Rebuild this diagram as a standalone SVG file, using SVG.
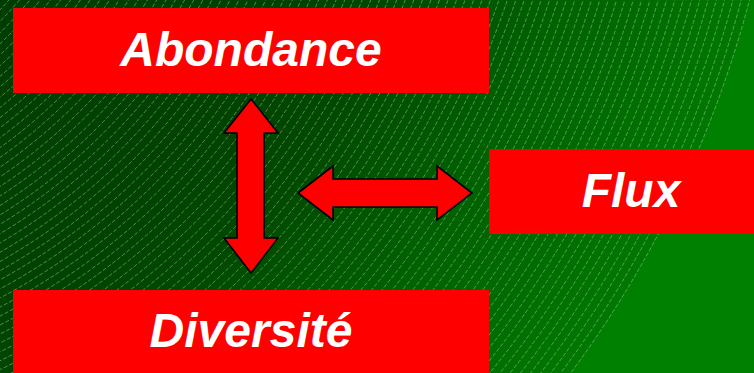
<svg xmlns="http://www.w3.org/2000/svg" width="754" height="373" viewBox="0 0 754 373">
  <defs>
    <radialGradient id="swirlFill" gradientUnits="userSpaceOnUse" cx="-305" cy="-276" r="1090">
      <stop offset="0.38" stop-color="#003d00"/>
      <stop offset="0.6" stop-color="#004200"/>
      <stop offset="0.68" stop-color="#004800"/>
      <stop offset="0.82" stop-color="#006000"/>
      <stop offset="0.92" stop-color="#006d00"/>
      <stop offset="1" stop-color="#007800"/>
    </radialGradient>
    <style>
      .box { fill: #ff0000; }
      .label { font-family: "Liberation Sans", Arial, sans-serif; font-weight: bold; font-style: italic; font-size: 48px; fill: #ffffff; text-anchor: middle; }
      .arrow { fill: #ff0000; stroke: #000000; stroke-width: 1.6; stroke-linejoin: miter; }
      .swirl circle { fill: none; stroke: #b0dcb0; stroke-opacity: 0.6; stroke-width: 0.8; stroke-dasharray: 4 2; }
    </style>
  </defs>

  <!-- background: flat green with a swirl of concentric dashed rings -->
  <rect x="0" y="0" width="754" height="373" fill="#008000"/>
  <circle cx="-305" cy="-276" r="1090" fill="url(#swirlFill)"/>
  <g class="swirl" transform="translate(-305,-276)">
    <circle r="1090"/><circle r="1082"/><circle r="1074"/><circle r="1066"/><circle r="1058"/>
    <circle r="1050"/><circle r="1042"/><circle r="1034"/><circle r="1026"/><circle r="1018"/>
    <circle r="1010"/><circle r="1002"/><circle r="994"/><circle r="986"/><circle r="978"/>
    <circle r="970"/><circle r="962"/><circle r="954"/><circle r="946"/><circle r="938"/>
    <circle r="930"/><circle r="922"/><circle r="914"/><circle r="906"/><circle r="898"/>
    <circle r="890"/><circle r="882"/><circle r="874"/><circle r="866"/><circle r="858"/>
    <circle r="850"/><circle r="842"/><circle r="834"/><circle r="826"/><circle r="818"/>
    <circle r="810"/><circle r="802"/><circle r="794"/><circle r="786"/><circle r="778"/>
    <circle r="770"/><circle r="762"/><circle r="754"/><circle r="746"/><circle r="738"/>
    <circle r="730"/><circle r="722"/><circle r="714"/><circle r="706"/><circle r="698"/>
    <circle r="690"/><circle r="682"/><circle r="674"/><circle r="666"/><circle r="658"/>
    <circle r="650"/><circle r="642"/><circle r="634"/><circle r="626"/><circle r="618"/>
    <circle r="610"/><circle r="602"/><circle r="594"/><circle r="586"/><circle r="578"/>
    <circle r="570"/><circle r="562"/><circle r="554"/><circle r="546"/><circle r="538"/>
    <circle r="530"/><circle r="522"/><circle r="514"/><circle r="506"/><circle r="498"/>
    <circle r="490"/><circle r="482"/><circle r="474"/><circle r="466"/><circle r="458"/>
    <circle r="450"/><circle r="442"/><circle r="434"/><circle r="426"/><circle r="418"/>
  </g>

  <!-- nodes -->
  <g id="abondance">
    <rect class="box" x="13" y="8" width="476" height="85"/>
    <text class="label" x="251" y="66">Abondance</text>
  </g>
  <g id="flux">
    <rect class="box" x="489" y="149" width="265" height="85"/>
    <text class="label" x="631" y="207">Flux</text>
  </g>
  <g id="diversite">
    <rect class="box" x="13" y="290" width="476" height="83"/>
    <text class="label" x="251" y="347">Diversité</text>
  </g>

  <!-- connectors: double-headed block arrows -->
  <g id="connectors">
    <polygon class="arrow" points="251,99 278,133 264,133 264,238 278,238 251,273 224,238 237,238 237,133 224,133"/>
    <polygon class="arrow" points="298,193 333,166 333,179 437,179 437,166 472,193 437,220 437,207 333,207 333,220"/>
  </g>
</svg>
